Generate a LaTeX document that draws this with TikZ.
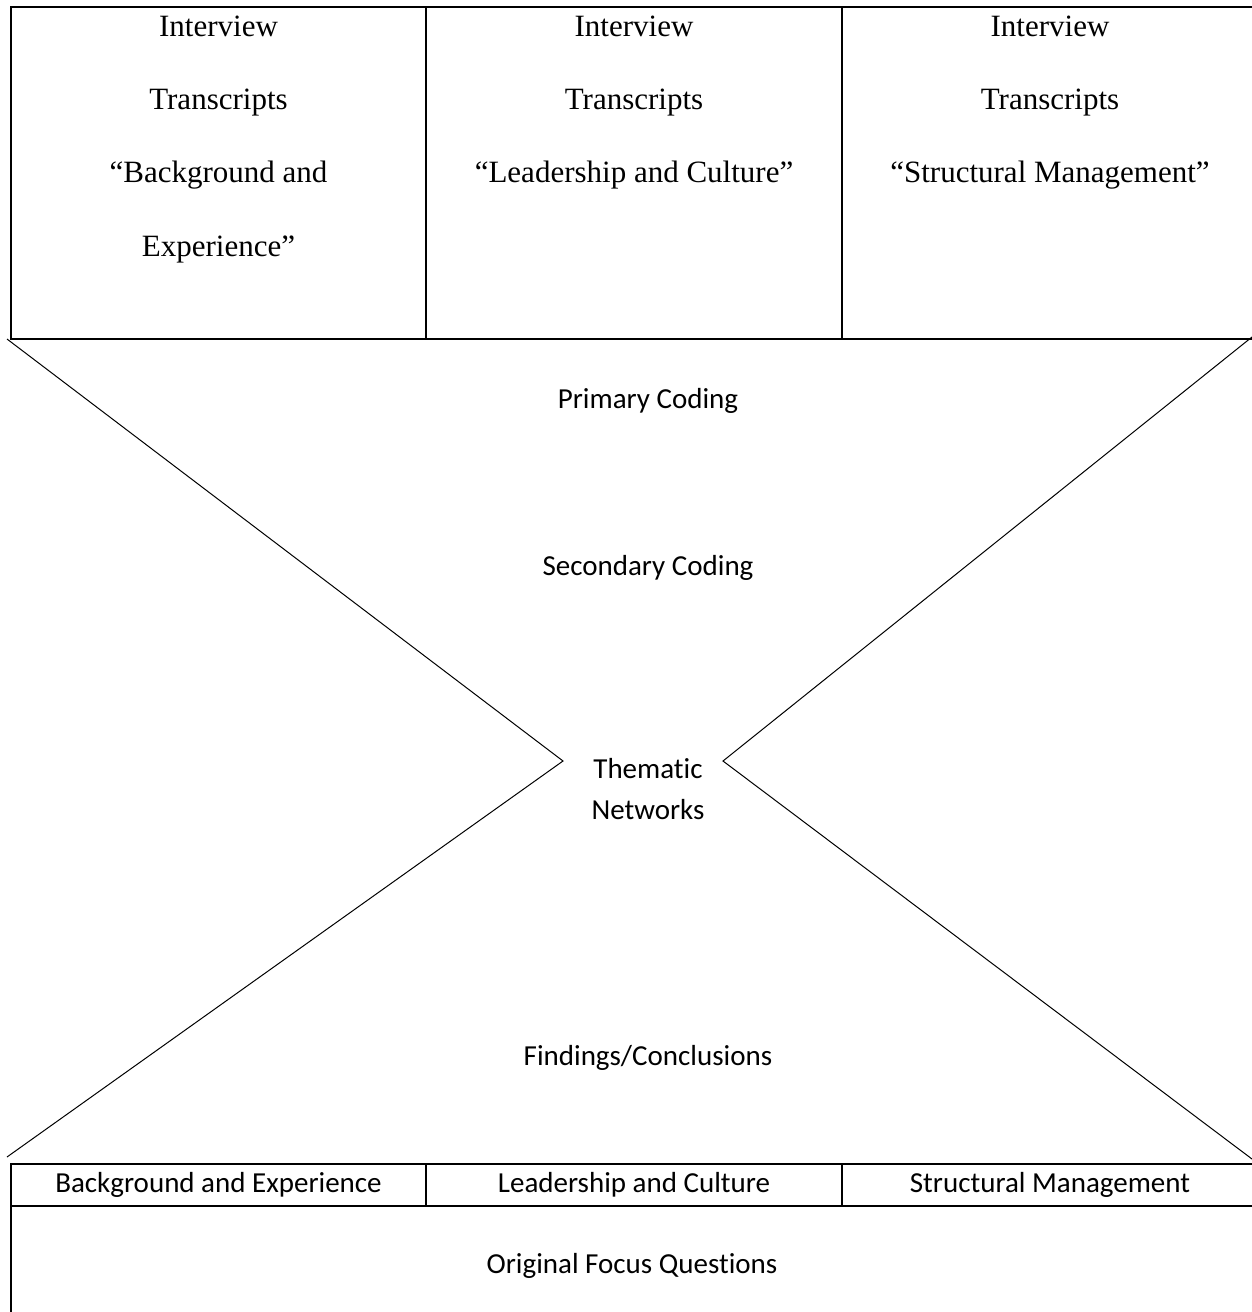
\documentclass[tikz,border=0pt]{standalone}
\usepackage{fontspec}
\setmainfont{Liberation Serif}
\newfontfamily\calibri[Ligatures=NoCommon]{Carlito}
\usetikzlibrary{positioning}

\begin{document}
\begin{tikzpicture}[x=1pt, y=-1pt,
    cell/.style={draw, line width=2pt, inner sep=0pt},
    toptext/.style={align=center, inner sep=0pt, anchor=base,
                    font=\fontsize{31}{73.3}\selectfont},
    flow/.style={inner sep=0pt, anchor=base,
                 font=\calibri\fontsize{29}{41}\selectfont},
    slant/.style={line width=1pt}]
    \useasboundingbox (0,0) rectangle (1252,1312);

    % interview transcripts (base = last line)
    \node[cell, minimum width=415pt, minimum height=332pt] (tBack) at (218.5,173) {};
    \node[cell, minimum width=416pt, minimum height=332pt] (tLead) at (634,173) {};
    \node[cell, minimum width=416pt, minimum height=332pt] (tStruct) at (1050,173) {};
    \node[toptext] (txtBack) at (218.5,256) {Interview\\Transcripts\\“Background and\\Experience”};
    \node[toptext] (txtLead) at (634,182.6) {Interview\\Transcripts\\“Leadership and Culture”};
    \node[toptext] (txtStruct) at (1050,182.6) {Interview\\Transcripts\\“Structural Management”};

    % hourglass
    \coordinate (lTop) at (7,339);
    \coordinate (lTip) at (563,761);
    \coordinate (lBot) at (7,1157);
    \coordinate (rTop) at (1252,337);
    \coordinate (rTip) at (723,761);
    \coordinate (rBot) at (1252,1159);
    \draw[slant] (lTop) -- (lTip) -- (lBot);
    \draw[slant] (rTop) -- (rTip) -- (rBot);

    \node[flow] (primary) at (648,408) {Primary Coding};
    \node[flow] (secondary) at (648,575) {Secondary Coding};
    \node[flow, align=center] (thematic) at (648,819) {Thematic\\Networks};
    \node[flow] (findings) at (648,1065) {Findings/Conclusions};

    % focus questions
    \node[cell, minimum width=415pt, minimum height=42pt,
          font=\calibri\fontsize{29}{41}\selectfont] (bBack) at (218.5,1185) {Background and Experience};
    \node[cell, minimum width=416pt, minimum height=42pt,
          font=\calibri\fontsize{29}{41}\selectfont] (bLead) at (634,1185) {Leadership and Culture};
    \node[cell, minimum width=416pt, minimum height=42pt,
          font=\calibri\fontsize{29}{41}\selectfont] (bStruct) at (1050,1185) {Structural Management};
    \node[cell, minimum width=1247pt, minimum height=130pt] (focusBox) at (634.5,1271) {};
    \node[flow] (focus) at (632,1273) {Original Focus Questions};
\end{tikzpicture}
\end{document}
